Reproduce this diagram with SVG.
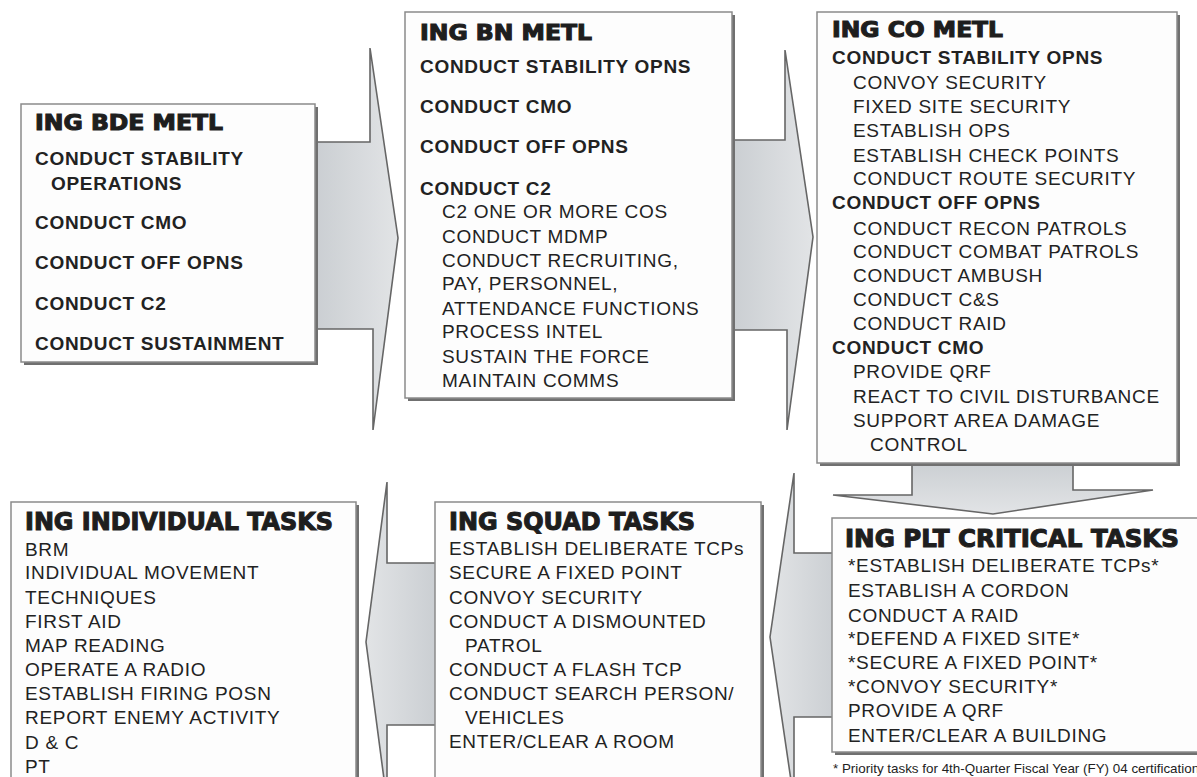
<svg xmlns="http://www.w3.org/2000/svg" width="1197" height="777" viewBox="0 0 1197 777">
<defs>
<linearGradient id="gh" x1="0" y1="0" x2="1" y2="0">
<stop offset="0" stop-color="#c9cdd1"/><stop offset="1" stop-color="#e2e4e6"/>
</linearGradient>
<linearGradient id="gv" x1="0" y1="0" x2="0" y2="1">
<stop offset="0" stop-color="#c9cdd1"/><stop offset="1" stop-color="#e2e4e6"/>
</linearGradient>
<linearGradient id="gl" x1="1" y1="0" x2="0" y2="0">
<stop offset="0" stop-color="#c9cdd1"/><stop offset="1" stop-color="#e2e4e6"/>
</linearGradient>
</defs>
<style>
.arr{stroke:#666;stroke-width:1.6;stroke-linejoin:miter}
.sh{fill:#707070}
.box{fill:#fdfdfd;stroke:#8a8a8a;stroke-width:1.5}
.t{font-family:"DejaVu Sans","Liberation Sans",sans-serif;font-weight:bold;fill:#1e1e1e;stroke:#1e1e1e;stroke-width:1.1}
.b{font-family:"Liberation Sans",Arial,sans-serif;font-weight:bold;font-size:19px;letter-spacing:0.7px;fill:#222}
.r{font-family:"Liberation Sans",Arial,sans-serif;font-size:19px;letter-spacing:0.7px;fill:#222}
.fn{font-family:"Liberation Sans",Arial,sans-serif;font-size:13.4px;fill:#222}
</style>
<rect width="1197" height="777" fill="#ffffff"/>
<g id="connectors">
<polygon class="arr" fill="url(#gh)" points="310,142 370,142 370,48 398,238 373,430 373,329 310,329"/>
<polygon class="arr" fill="url(#gh)" points="727,140 785,140 785,50 813,237 787,430 787,330 727,330"/>
<polygon class="arr" fill="url(#gv)" points="912,458 1073,458 1073,490 1153,490 993,514 833,495 912,495"/>
<polygon class="arr" fill="url(#gl)" points="840,553 794,553 794,473 770,637 794,801 794,717 840,717"/>
<polygon class="arr" fill="url(#gl)" points="440,563 387,563 387,482 366,642 387,802 387,725 440,725"/>
</g>
<g id="bde">
<rect class="sh" x="24" y="107" width="294" height="258"/>
<rect class="box" x="21" y="104" width="294" height="258"/>
<text class="t" x="35" y="130" font-size="21" textLength="188" lengthAdjust="spacingAndGlyphs">ING BDE METL</text>
<text class="b" x="35" y="165">CONDUCT STABILITY</text>
<text class="b" x="51" y="190">OPERATIONS</text>
<text class="b" x="35" y="229">CONDUCT CMO</text>
<text class="b" x="35" y="269">CONDUCT OFF OPNS</text>
<text class="b" x="35" y="310">CONDUCT C2</text>
<text class="b" x="35" y="350">CONDUCT SUSTAINMENT</text>
</g>
<g id="bn">
<rect class="sh" x="408" y="15" width="327" height="386"/>
<rect class="box" x="405" y="12" width="327" height="386"/>
<text class="t" x="420" y="40" font-size="21" textLength="172" lengthAdjust="spacingAndGlyphs">ING BN METL</text>
<text class="b" x="420" y="73">CONDUCT STABILITY OPNS</text>
<text class="b" x="420" y="113">CONDUCT CMO</text>
<text class="b" x="420" y="153">CONDUCT OFF OPNS</text>
<text class="b" x="420" y="195">CONDUCT C2</text>
<text class="r" x="442" y="218">C2 ONE OR MORE COS</text>
<text class="r" x="442" y="243">CONDUCT MDMP</text>
<text class="r" x="442" y="267">CONDUCT RECRUITING,</text>
<text class="r" x="442" y="290">PAY, PERSONNEL,</text>
<text class="r" x="442" y="315">ATTENDANCE FUNCTIONS</text>
<text class="r" x="442" y="338">PROCESS INTEL</text>
<text class="r" x="442" y="363">SUSTAIN THE FORCE</text>
<text class="r" x="442" y="387">MAINTAIN COMMS</text>
</g>
<g id="co">
<rect class="sh" x="820" y="15" width="360" height="451"/>
<rect class="box" x="817" y="12" width="360" height="451"/>
<text class="t" x="832" y="37" font-size="21" textLength="171" lengthAdjust="spacingAndGlyphs">ING CO METL</text>
<text class="b" x="832" y="64">CONDUCT STABILITY OPNS</text>
<text class="r" x="853" y="89">CONVOY SECURITY</text>
<text class="r" x="853" y="113">FIXED SITE SECURITY</text>
<text class="r" x="853" y="137">ESTABLISH OPS</text>
<text class="r" x="853" y="162">ESTABLISH CHECK POINTS</text>
<text class="r" x="853" y="185">CONDUCT ROUTE SECURITY</text>
<text class="b" x="832" y="209">CONDUCT OFF OPNS</text>
<text class="r" x="853" y="235">CONDUCT RECON PATROLS</text>
<text class="r" x="853" y="258">CONDUCT COMBAT PATROLS</text>
<text class="r" x="853" y="282">CONDUCT AMBUSH</text>
<text class="r" x="853" y="306">CONDUCT C&amp;S</text>
<text class="r" x="853" y="330">CONDUCT RAID</text>
<text class="b" x="832" y="354">CONDUCT CMO</text>
<text class="r" x="853" y="378">PROVIDE QRF</text>
<text class="r" x="853" y="403">REACT TO CIVIL DISTURBANCE</text>
<text class="r" x="853" y="427">SUPPORT AREA DAMAGE</text>
<text class="r" x="870" y="451">CONTROL</text>
</g>
<g id="plt">
<rect class="sh" x="835" y="521" width="370" height="234"/>
<rect class="box" x="832" y="518" width="370" height="234"/>
<text class="t" x="845" y="547" font-size="24" textLength="334" lengthAdjust="spacingAndGlyphs">ING PLT CRITICAL TASKS</text>
<text class="r" x="848" y="572">*ESTABLISH DELIBERATE TCPs*</text>
<text class="r" x="848" y="597">ESTABLISH A CORDON</text>
<text class="r" x="848" y="622">CONDUCT A RAID</text>
<text class="r" x="848" y="645">*DEFEND A FIXED SITE*</text>
<text class="r" x="848" y="669">*SECURE A FIXED POINT*</text>
<text class="r" x="848" y="693">*CONVOY SECURITY*</text>
<text class="r" x="848" y="717">PROVIDE A QRF</text>
<text class="r" x="848" y="742">ENTER/CLEAR A BUILDING</text>
</g>
<g id="footnote">
<text class="fn" x="833" y="773">* Priority tasks for 4th-Quarter Fiscal Year (FY) 04 certification</text>
</g>
<g id="squad">
<rect class="sh" x="438" y="505" width="326" height="290"/>
<rect class="box" x="435" y="502" width="326" height="290"/>
<text class="t" x="449" y="530" font-size="24" textLength="246" lengthAdjust="spacingAndGlyphs">ING SQUAD TASKS</text>
<text class="r" x="449" y="555">ESTABLISH DELIBERATE TCPs</text>
<text class="r" x="449" y="579">SECURE A FIXED POINT</text>
<text class="r" x="449" y="604">CONVOY SECURITY</text>
<text class="r" x="449" y="628">CONDUCT A DISMOUNTED</text>
<text class="r" x="465" y="652">PATROL</text>
<text class="r" x="449" y="676">CONDUCT A FLASH TCP</text>
<text class="r" x="449" y="700">CONDUCT SEARCH PERSON/</text>
<text class="r" x="465" y="724">VEHICLES</text>
<text class="r" x="449" y="748">ENTER/CLEAR A ROOM</text>
</g>
<g id="individual">
<rect class="sh" x="14" y="505" width="345" height="290"/>
<rect class="box" x="11" y="502" width="345" height="290"/>
<text class="t" x="25" y="530" font-size="24" textLength="308" lengthAdjust="spacingAndGlyphs">ING INDIVIDUAL TASKS</text>
<text class="r" x="25" y="556">BRM</text>
<text class="r" x="25" y="579">INDIVIDUAL MOVEMENT</text>
<text class="r" x="25" y="604">TECHNIQUES</text>
<text class="r" x="25" y="628">FIRST AID</text>
<text class="r" x="25" y="652">MAP READING</text>
<text class="r" x="25" y="676">OPERATE A RADIO</text>
<text class="r" x="25" y="700">ESTABLISH FIRING POSN</text>
<text class="r" x="25" y="724">REPORT ENEMY ACTIVITY</text>
<text class="r" x="25" y="749">D &amp; C</text>
<text class="r" x="25" y="773">PT</text>
</g>
</svg>
